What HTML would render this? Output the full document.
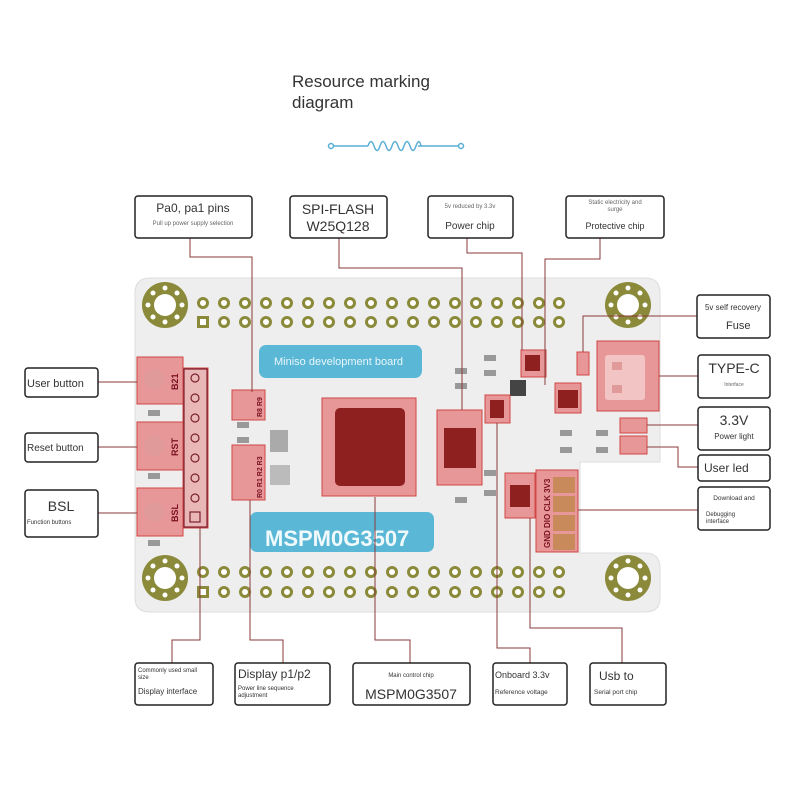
<!DOCTYPE html>
<html><head><meta charset="utf-8"><style>
body{margin:0;background:#fff;}
svg{display:block;font-family:"Liberation Sans",sans-serif;}
</style></head><body>
<svg width="800" height="800" viewBox="0 0 800 800" xmlns="http://www.w3.org/2000/svg">
<rect width="800" height="800" fill="#fff"/>
<text x="292" y="87" font-size="17" fill="#333">Resource marking</text>
<text x="292" y="108" font-size="17" fill="#333">diagram</text>
<g stroke="#5aaed6" stroke-width="1.5" fill="none">
<circle cx="331" cy="146" r="2.5"/><circle cx="461" cy="146" r="2.5"/>
<line x1="334" y1="146" x2="368" y2="146"/><line x1="418" y1="146" x2="458" y2="146"/>
<path d="M368 146 q3 -9 6 0 q3 9 6 0 q3 -9 6 0 q3 9 6 0 q3 -9 6 0 q3 9 6 0 q3 -9 6 0 q3 9 6 0 q3 -9 5 0"/>
</g>
<path d="M150 278 H645 Q660 278 660 293 V462 H580 V553 H645 Q660 553 660 568 V598 Q660 612 645 612 H150 Q135 612 135 598 V293 Q135 278 150 278 Z" fill="#eeeeee" stroke="#ddd"/>
<g fill="#8a8a3a">
<circle cx="165" cy="305" r="23"/><circle cx="628" cy="305" r="23"/><circle cx="165" cy="578" r="23"/><circle cx="628" cy="578" r="23"/>
</g>
<g fill="#fff">
<circle cx="165" cy="305" r="11"/><circle cx="628" cy="305" r="11"/><circle cx="165" cy="578" r="11"/><circle cx="628" cy="578" r="11"/>
<g id="mh"><circle cx="165" cy="288" r="2.5"/><circle cx="165" cy="322" r="2.5"/><circle cx="148" cy="305" r="2.5"/><circle cx="182" cy="305" r="2.5"/><circle cx="153" cy="293" r="2.5"/><circle cx="177" cy="293" r="2.5"/><circle cx="153" cy="317" r="2.5"/><circle cx="177" cy="317" r="2.5"/></g>
<use href="#mh" x="463" y="0"/><use href="#mh" x="0" y="273"/><use href="#mh" x="463" y="273"/>
</g>
<g fill="#fff" stroke="#8a8a3a" stroke-width="3">
<circle cx="203" cy="303" r="4.5"/><circle cx="224" cy="303" r="4.5"/><circle cx="245" cy="303" r="4.5"/><circle cx="266" cy="303" r="4.5"/><circle cx="287" cy="303" r="4.5"/><circle cx="308" cy="303" r="4.5"/><circle cx="329" cy="303" r="4.5"/><circle cx="350" cy="303" r="4.5"/><circle cx="371" cy="303" r="4.5"/><circle cx="392" cy="303" r="4.5"/><circle cx="413" cy="303" r="4.5"/><circle cx="434" cy="303" r="4.5"/><circle cx="455" cy="303" r="4.5"/><circle cx="476" cy="303" r="4.5"/><circle cx="497" cy="303" r="4.5"/><circle cx="518" cy="303" r="4.5"/><circle cx="539" cy="303" r="4.5"/><circle cx="559" cy="303" r="4.5"/>
<rect x="198.5" y="317.5" width="9" height="9"/><circle cx="224" cy="322" r="4.5"/><circle cx="245" cy="322" r="4.5"/><circle cx="266" cy="322" r="4.5"/><circle cx="287" cy="322" r="4.5"/><circle cx="308" cy="322" r="4.5"/><circle cx="329" cy="322" r="4.5"/><circle cx="350" cy="322" r="4.5"/><circle cx="371" cy="322" r="4.5"/><circle cx="392" cy="322" r="4.5"/><circle cx="413" cy="322" r="4.5"/><circle cx="434" cy="322" r="4.5"/><circle cx="455" cy="322" r="4.5"/><circle cx="476" cy="322" r="4.5"/><circle cx="497" cy="322" r="4.5"/><circle cx="518" cy="322" r="4.5"/><circle cx="539" cy="322" r="4.5"/><circle cx="559" cy="322" r="4.5"/>
<circle cx="203" cy="572" r="4.5"/><circle cx="224" cy="572" r="4.5"/><circle cx="245" cy="572" r="4.5"/><circle cx="266" cy="572" r="4.5"/><circle cx="287" cy="572" r="4.5"/><circle cx="308" cy="572" r="4.5"/><circle cx="329" cy="572" r="4.5"/><circle cx="350" cy="572" r="4.5"/><circle cx="371" cy="572" r="4.5"/><circle cx="392" cy="572" r="4.5"/><circle cx="413" cy="572" r="4.5"/><circle cx="434" cy="572" r="4.5"/><circle cx="455" cy="572" r="4.5"/><circle cx="476" cy="572" r="4.5"/><circle cx="497" cy="572" r="4.5"/><circle cx="518" cy="572" r="4.5"/><circle cx="539" cy="572" r="4.5"/><circle cx="559" cy="572" r="4.5"/>
<rect x="198.5" y="587.5" width="9" height="9"/><circle cx="224" cy="592" r="4.5"/><circle cx="245" cy="592" r="4.5"/><circle cx="266" cy="592" r="4.5"/><circle cx="287" cy="592" r="4.5"/><circle cx="308" cy="592" r="4.5"/><circle cx="329" cy="592" r="4.5"/><circle cx="350" cy="592" r="4.5"/><circle cx="371" cy="592" r="4.5"/><circle cx="392" cy="592" r="4.5"/><circle cx="413" cy="592" r="4.5"/><circle cx="434" cy="592" r="4.5"/><circle cx="455" cy="592" r="4.5"/><circle cx="476" cy="592" r="4.5"/><circle cx="497" cy="592" r="4.5"/><circle cx="518" cy="592" r="4.5"/><circle cx="539" cy="592" r="4.5"/><circle cx="559" cy="592" r="4.5"/>
</g>
<rect x="259" y="345" width="163" height="33" rx="7" fill="#5ab8d6"/>
<text x="274" y="365" font-size="11" fill="#e8f6fb">Miniso development board</text>
<rect x="250" y="512" width="184" height="40" rx="7" fill="#5ab8d6"/>
<text x="265" y="546" font-size="22" font-weight="bold" fill="#f0fafd">MSPM0G3507</text>
<g fill="#999"><rect x="148" y="410" width="12" height="6"/><rect x="148" y="473" width="12" height="6"/><rect x="148" y="540" width="12" height="6"/><rect x="237" y="422" width="12" height="6"/><rect x="237" y="437" width="12" height="6"/><rect x="270" y="430" width="18" height="22" fill="#aaa"/><rect x="270" y="465" width="20" height="20" fill="#bbb"/><rect x="455" y="368" width="12" height="6"/><rect x="455" y="383" width="12" height="6"/><rect x="455" y="497" width="12" height="6"/><rect x="484" y="355" width="12" height="6"/><rect x="484" y="370" width="12" height="6"/><rect x="484" y="470" width="12" height="6"/><rect x="484" y="490" width="12" height="6"/><rect x="510" y="380" width="16" height="16" fill="#444"/><rect x="560" y="430" width="12" height="6"/><rect x="596" y="430" width="12" height="6"/><rect x="560" y="447" width="12" height="6"/><rect x="596" y="447" width="12" height="6"/></g>
<g fill="rgba(225,80,80,0.55)" stroke="#d04545" stroke-width="1">
<rect x="137" y="357" width="46" height="47"/><rect x="137" y="422" width="46" height="48"/><rect x="137" y="488" width="46" height="48"/>
<rect x="183" y="368" width="25" height="160" fill="rgba(225,80,80,0.35)"/>
<rect x="232" y="390" width="33" height="30"/><rect x="232" y="445" width="33" height="55"/>
<rect x="322" y="398" width="94" height="98"/><rect x="437" y="410" width="45" height="75"/>
<rect x="485" y="395" width="25" height="28"/><rect x="521" y="350" width="25" height="27"/>
<rect x="555" y="383" width="26" height="30"/><rect x="577" y="352" width="12" height="23"/>
<rect x="597" y="341" width="62" height="70"/><rect x="620" y="418" width="27" height="15"/><rect x="620" y="436" width="27" height="18"/>
<rect x="505" y="473" width="30" height="45"/><rect x="536" y="470" width="42" height="82"/>
</g>
<g fill="#8f2020"><rect x="335" y="408" width="70" height="78" rx="5"/><rect x="444" y="428" width="32" height="40"/><rect x="490" y="400" width="14" height="18"/><rect x="525" y="355" width="15" height="16"/><rect x="558" y="390" width="20" height="18"/><rect x="510" y="485" width="20" height="22"/></g>
<g fill="#f3c4c4"><rect x="605" y="355" width="40" height="45" rx="3"/></g>
<g fill="#e09a9a"><circle cx="154" cy="379" r="10"/><circle cx="154" cy="446" r="10"/><circle cx="154" cy="512" r="10"/><rect x="612" y="362" width="10" height="8"/><rect x="612" y="385" width="10" height="8"/></g>
<g fill="#c88a5a"><rect x="553" y="477" width="22" height="16"/><rect x="553" y="496" width="22" height="16"/><rect x="553" y="515" width="22" height="16"/><rect x="553" y="534" width="22" height="16"/></g>
<g fill="none" stroke="#7a2030" stroke-width="1.2"><circle cx="195" cy="378" r="4"/><circle cx="195" cy="398" r="4"/><circle cx="195" cy="418" r="4"/><circle cx="195" cy="438" r="4"/><circle cx="195" cy="458" r="4"/><circle cx="195" cy="478" r="4"/><circle cx="195" cy="498" r="4"/><rect x="190" y="512" width="10" height="10"/><rect x="184" y="369" width="23" height="158"/></g>
<g font-size="9" font-weight="bold" fill="#7a1020">
<text transform="translate(178,390) rotate(-90)">B21</text><text transform="translate(178,456) rotate(-90)">RST</text><text transform="translate(178,522) rotate(-90)">BSL</text>
<text transform="translate(262,417) rotate(-90)" font-size="7">R8 R9</text><text transform="translate(262,498) rotate(-90)" font-size="7">R0 R1 R2 R3</text>
<text transform="translate(550,548) rotate(-90)" font-size="8">GND DIO CLK 3V3</text>
</g>
<g fill="none" stroke="#8b3a3a" stroke-width="1">
<path d="M190 238 V257 H252 V392"/>
<path d="M339 238 V268 H462 V410"/>
<path d="M467 238 V253 H522 V350"/>
<path d="M600 238 V259 H545 V385"/>
<path d="M697 316 H583 V352"/>
<path d="M698 376 H659"/>
<path d="M698 425 H647"/>
<path d="M698 467 H678 V447 H647"/>
<path d="M698 510 H578"/>
<path d="M98 382 H137"/><path d="M98 447 H137"/><path d="M98 513 H137"/>
<path d="M200 528 V640 H172 V663"/>
<path d="M250 500 V640 H283 V663"/>
<path d="M375 497 V640 H410 V663"/>
<path d="M497 423 V648 H530 V663"/>
<path d="M530 518 V628 H622 V663"/>
</g>
<g fill="#fff" stroke="#222" stroke-width="1.5">
<rect x="135" y="196" width="117" height="42" rx="3"/><rect x="290" y="196" width="97" height="42" rx="3"/><rect x="428" y="196" width="85" height="42" rx="3"/><rect x="566" y="196" width="98" height="42" rx="3"/>
<rect x="697" y="295" width="73" height="43" rx="3"/><rect x="698" y="355" width="72" height="43" rx="3"/><rect x="698" y="407" width="72" height="43" rx="3"/><rect x="698" y="455" width="72" height="26" rx="3"/><rect x="698" y="487" width="72" height="43" rx="3"/>
<rect x="25" y="368" width="73" height="29" rx="3"/><rect x="25" y="433" width="73" height="29" rx="3"/><rect x="25" y="490" width="73" height="47" rx="3"/>
<rect x="135" y="663" width="78" height="42" rx="3"/><rect x="235" y="663" width="95" height="42" rx="3"/><rect x="353" y="663" width="117" height="42" rx="3"/><rect x="493" y="663" width="74" height="42" rx="3"/><rect x="590" y="663" width="76" height="42" rx="3"/>
</g>
<g fill="#333">
<text x="193" y="212" font-size="12" text-anchor="middle">Pa0, pa1 pins</text><text x="193" y="225" font-size="6" text-anchor="middle" fill="#666">Pull up power supply selection</text>
<text x="338" y="214" font-size="14" text-anchor="middle">SPI-FLASH</text><text x="338" y="231" font-size="14" text-anchor="middle">W25Q128</text>
<text x="470" y="208" font-size="6" text-anchor="middle" fill="#666">5v reduced by 3.3v</text><text x="470" y="229" font-size="10" text-anchor="middle">Power chip</text>
<text x="615" y="204" font-size="6" text-anchor="middle" fill="#666">Static electricity and</text><text x="615" y="211" font-size="6" text-anchor="middle" fill="#666">surge</text><text x="615" y="229" font-size="9" text-anchor="middle">Protective chip</text>
<text x="733" y="310" font-size="8" text-anchor="middle">5v self recovery</text><text x="726" y="329" font-size="11">Fuse</text>
<text x="734" y="373" font-size="14" text-anchor="middle">TYPE-C</text><text x="734" y="386" font-size="5" text-anchor="middle" fill="#666">Interface</text>
<text x="734" y="425" font-size="14" text-anchor="middle">3.3V</text><text x="734" y="439" font-size="8" text-anchor="middle">Power light</text>
<text x="704" y="472" font-size="12">User led</text>
<text x="734" y="500" font-size="6.5" text-anchor="middle">Download and</text><text x="706" y="516" font-size="6">Debugging</text><text x="706" y="523" font-size="6">interface</text>
<text x="27" y="387" font-size="11">User button</text><text x="27" y="451" font-size="10">Reset button</text>
<text x="61" y="511" font-size="14" text-anchor="middle">BSL</text><text x="27" y="524" font-size="6">Function buttons</text>
<text x="138" y="672" font-size="6">Commonly used small</text><text x="138" y="679" font-size="6">size</text><text x="138" y="694" font-size="8">Display interface</text>
<text x="238" y="678" font-size="12">Display p1/p2</text><text x="238" y="690" font-size="6">Power line sequence</text><text x="238" y="697" font-size="6">adjustment</text>
<text x="411" y="677" font-size="6" text-anchor="middle">Main control chip</text><text x="411" y="699" font-size="14" text-anchor="middle">MSPM0G3507</text>
<text x="495" y="678" font-size="9">Onboard 3.3v</text><text x="495" y="694" font-size="6.5">Reference voltage</text>
<text x="599" y="680" font-size="12">Usb to</text><text x="594" y="694" font-size="6.5">Serial port chip</text>
</g>
</svg>
</body></html>
